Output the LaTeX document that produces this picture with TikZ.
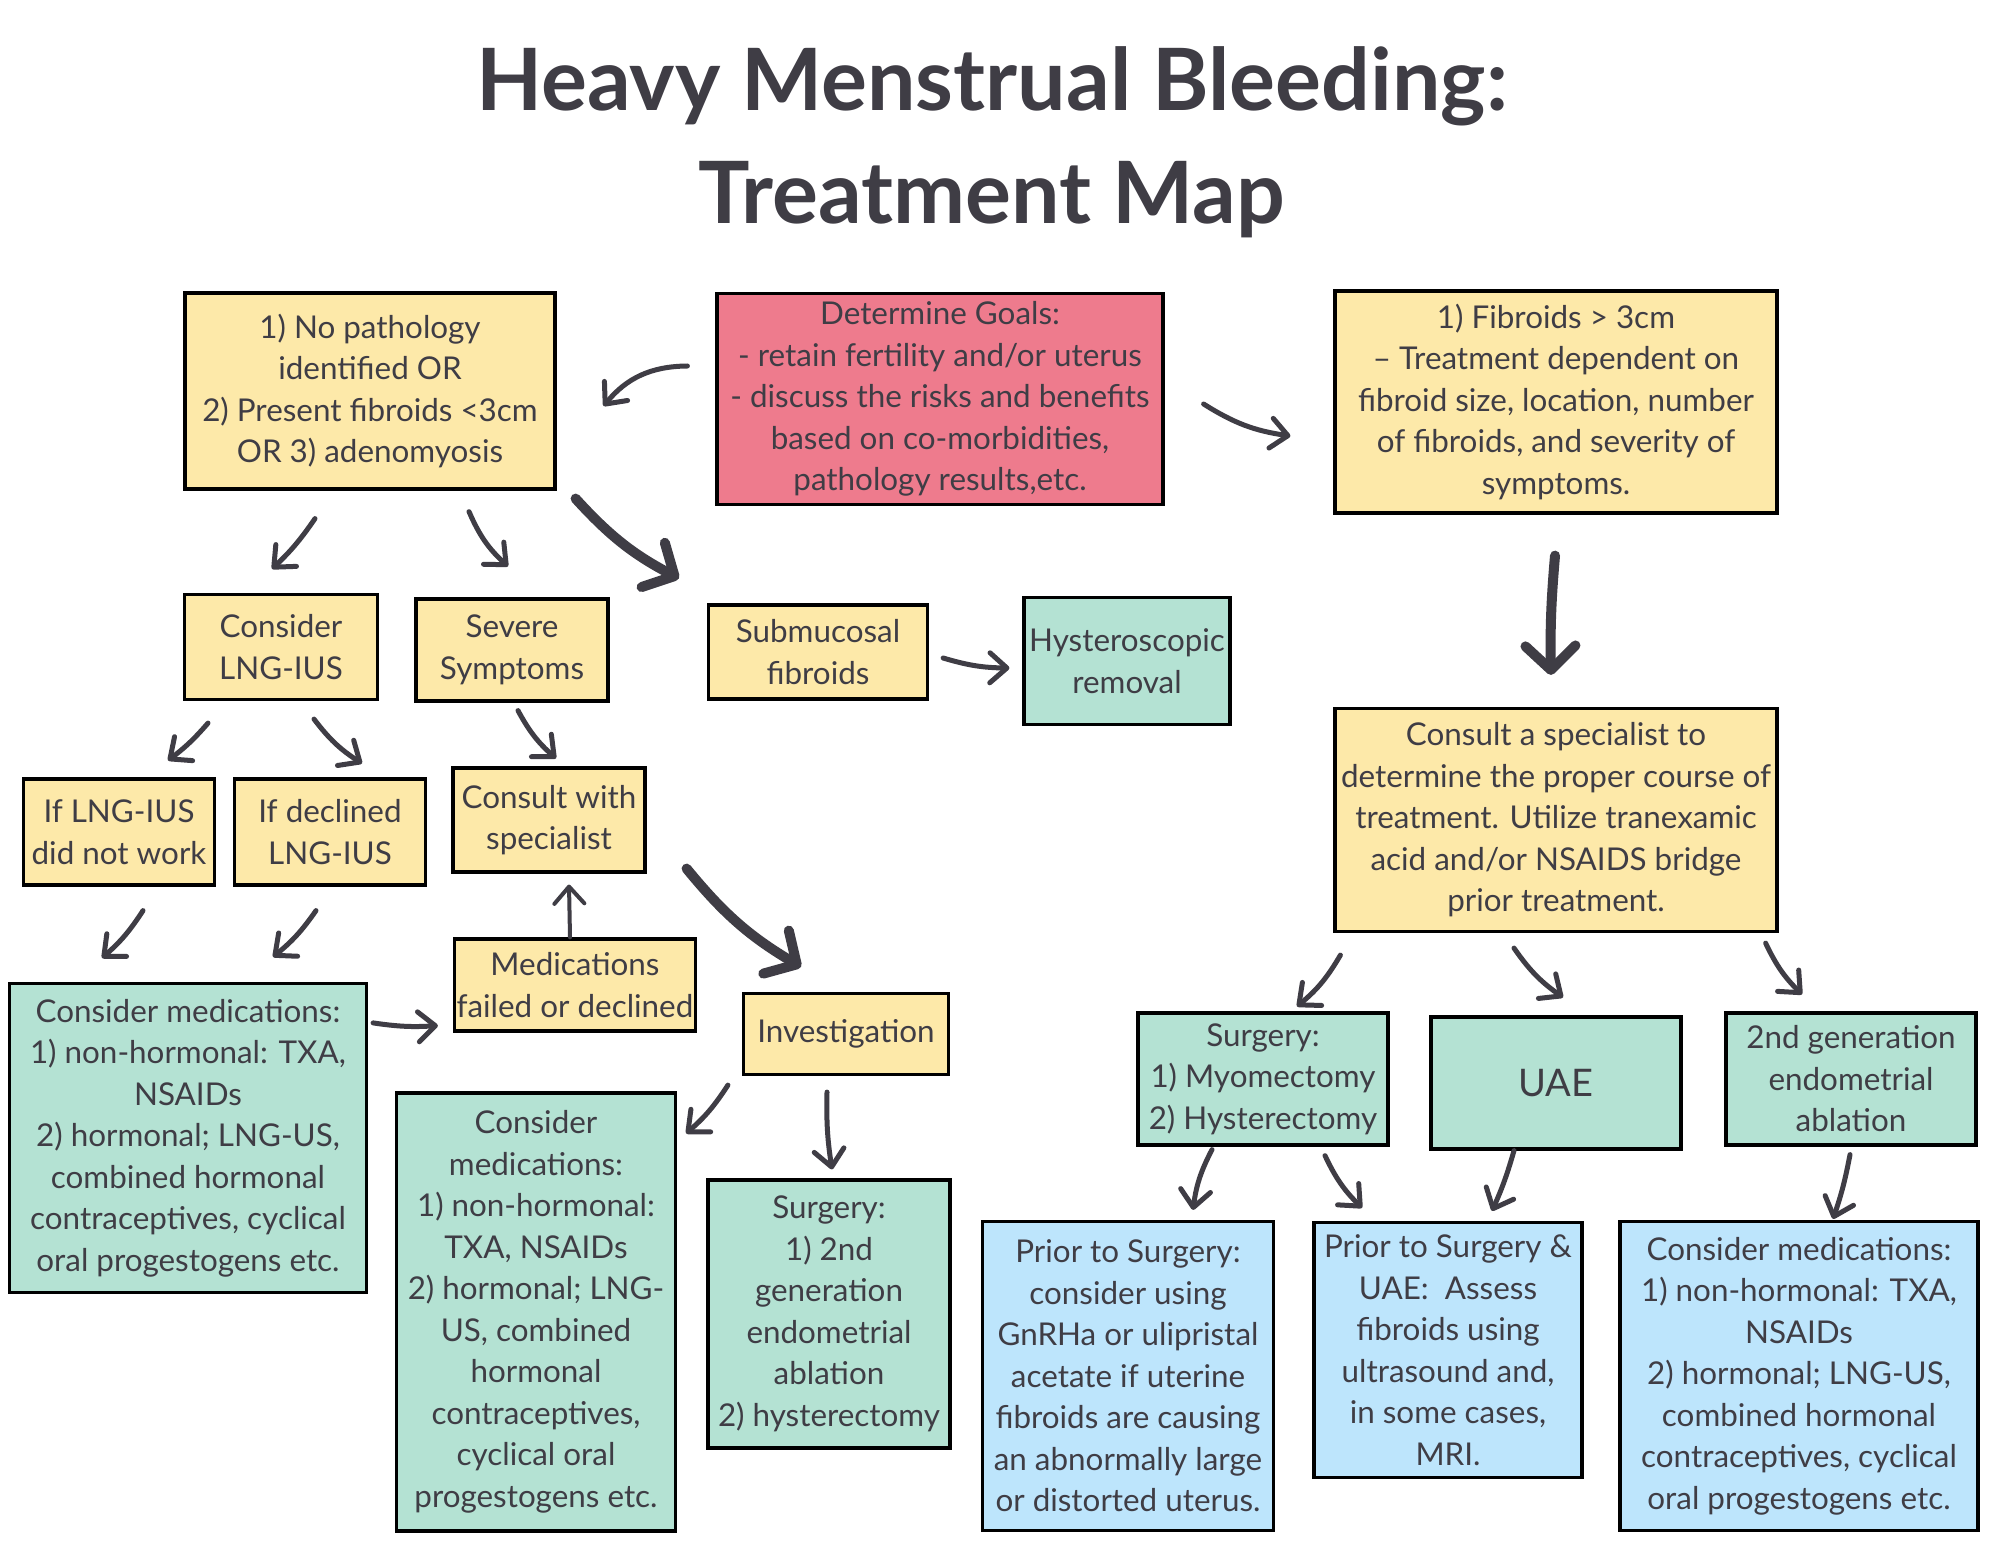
\documentclass[tikz,border=0pt]{standalone}
\usepackage{fontspec}
\setmainfont{Lato}
\usetikzlibrary{arrows.meta}
\definecolor{ink}{HTML}{3F3D45}
\definecolor{sticky}{HTML}{FDE9A9}
\definecolor{rose}{HTML}{EE7B8D}
\definecolor{mint}{HTML}{B4E2D3}
\definecolor{sky}{HTML}{BDE5FC}

\begin{document}
\begin{tikzpicture}[x=0.5pt,y=-0.5pt,
    box/.style={draw=black, line width=1.6pt, align=center, text=ink, inner sep=0pt,
      font=\fontsize{15.7}{20.75}\selectfont},
    yellowbox/.style={box, fill=sticky},
    rosebox/.style={box, fill=rose},
    mintbox/.style={box, fill=mint},
    skybox/.style={box, fill=sky},
    title/.style={text=ink, font=\fontsize{43}{50}\selectfont\bfseries},
    arr/.style={draw=ink, line width=2.5pt, line cap=round,
      -{Straight Barb[length=8.5pt,width=15pt,round]}},
    bigarr/.style={arr, line width=5pt,
      -{Straight Barb[length=12pt,width=25pt,round]}}]
			\fill[white] (0,0) rectangle (2000,1545);
			\useasboundingbox (0,0) rectangle (2000,1545);
			\node[title] (head1) at (992,86) {Heavy Menstrual Bleeding:};
			\node[title] (head2) at (992,200) {Treatment Map};

			% top row
			\node[yellowbox, minimum width=185pt, minimum height=98pt] (nopath) at (370,391)
				{1) No pathology\\identified OR\\2) Present fibroids <3cm\\OR 3) adenomyosis};
			\node[rosebox, minimum width=223pt, minimum height=105.5pt] (goals) at (940,399)
				{Determine Goals:\\- retain fertility and/or uterus\\- discuss the risks and benefits\\based on co-morbidities,\\pathology results,etc.};
			\node[yellowbox, minimum width=221pt, minimum height=111pt] (bigfib) at (1556,402)
				{1) Fibroids > 3cm\\-- Treatment dependent on\\fibroid size, location, number\\of fibroids, and severity of\\symptoms.};

			% left branch
			\node[yellowbox, minimum width=96.5pt, minimum height=52.5pt] (lngius) at (281,647) {Consider\\LNG-IUS};
			\node[yellowbox, minimum width=96pt, minimum height=51pt] (severe) at (512,650) {Severe\\Symptoms};
			\node[yellowbox, minimum width=109.5pt, minimum height=47pt] (submuc) at (818,652) {Submucosal\\fibroids};
			\node[mintbox, minimum width=103pt, minimum height=63.5pt] (hystrem) at (1127,661) {Hysteroscopic\\removal};
			\node[yellowbox, minimum width=95.5pt, minimum height=53pt] (notwork) at (119,832) {If LNG-IUS\\did not work};
			\node[yellowbox, minimum width=95.5pt, minimum height=53pt] (declined) at (330,832) {If declined\\LNG-IUS};
			\node[yellowbox, minimum width=96pt, minimum height=52pt] (consultsp) at (549,820) {Consult with\\specialist};
			\node[yellowbox, minimum width=120.5pt, minimum height=46pt] (medfail) at (575,985) {Medications\\failed or declined};
			\node[yellowbox, minimum width=102.5pt, minimum height=40.5pt] (invest) at (846,1034) {Investigation};
			\node[mintbox, minimum width=178.5pt, minimum height=154.5pt] (medsleft) at (188,1138)
				{Consider medications:\\1) non-hormonal: TXA,\\NSAIDs\\2) hormonal; LNG-US,\\combined hormonal\\contraceptives, cyclical\\oral progestogens etc.};
			\node[mintbox, minimum width=139.5pt, minimum height=219pt] (medsmid) at (536,1312)
				{Consider\\medications:\\1) non-hormonal:\\TXA, NSAIDs\\2) hormonal; LNG-\\US, combined\\hormonal\\contraceptives,\\cyclical oral\\progestogens etc.};
			\node[mintbox, minimum width=121pt, minimum height=134pt] (surgmid) at (829,1314)
				{Surgery:\\1) 2nd\\generation\\endometrial\\ablation\\2) hysterectomy};

			% right branch
			\node[yellowbox, minimum width=221pt, minimum height=111.5pt] (specbig) at (1556,820)
				{Consult a specialist to\\determine the proper course of\\treatment. Utilize tranexamic\\acid and/or NSAIDS bridge\\prior treatment.};
			\node[mintbox, minimum width=125pt, minimum height=66pt] (surgmyo) at (1263,1079)
				{Surgery:\\1) Myomectomy\\2) Hysterectomy};
			\node[mintbox, minimum width=125pt, minimum height=66pt, font=\fontsize{19}{24}\selectfont] (uae) at (1556,1083) {UAE};
			\node[mintbox, minimum width=125pt, minimum height=66pt] (ablat) at (1851,1079)
				{2nd generation\\endometrial\\ablation};
			\node[skybox, minimum width=145.5pt, minimum height=154.5pt] (priorsurg) at (1128,1376)
				{Prior to Surgery:\\consider using\\GnRHa or ulipristal\\acetate if uterine\\fibroids are causing\\an abnormally large\\or distorted uterus.};
			\node[skybox, minimum width=134pt, minimum height=127.5pt] (prioruae) at (1448,1350)
				{Prior to Surgery \&\\UAE:\ \ Assess\\fibroids using\\ultrasound and,\\in some cases,\\MRI.};
			\node[skybox, minimum width=179pt, minimum height=154.5pt] (medsright) at (1799,1376)
				{Consider medications:\\1) non-hormonal: TXA,\\NSAIDs\\2) hormonal; LNG-US,\\combined hormonal\\contraceptives, cyclical\\oral progestogens etc.};

			% connectors
			\draw[arr] ([shift={(-28,-33)}]goals.west) to[bend right=25] ([shift={(47,15)}]nopath.east);
			\draw[arr] ([shift={(39,5)}]goals.east) to[bend right=12] ([shift={(-43,34)}]bigfib.west);
			\draw[arr] ([shift={(-55,28)}]nopath.south) to[bend left=6] ([shift={(-9,-24)}]lngius.north);
			\draw[arr] ([shift={(99,21)}]nopath.south) to[bend right=12] ([shift={(-4,-31)}]severe.north);
			\draw[bigarr] ([shift={(19,8)}]nopath.south east) to[bend right=10] ([shift={(-28,-25)}]submuc.north west);
			\draw[arr] ([shift={(14,6)}]submuc.east) to[bend right=8] ([shift={(-13,7)}]hystrem.west);
			\draw[bigarr] ([shift={(-1,41)}]bigfib.south) to[bend right=3] ([shift={(-5,-32)}]specbig.north);
			\draw[arr] ([shift={(-73,22)}]lngius.south) to[bend left=6] ([shift={(49,-17)}]notwork.north);
			\draw[arr] ([shift={(33,18)}]lngius.south) to[bend right=10] ([shift={(32,-14)}]declined.north);
			\draw[arr] ([shift={(6,8)}]severe.south) to[bend right=10] ([shift={(7,-8)}]consultsp.north);
			\draw[arr] ([shift={(24,24)}]notwork.south) to[bend left=8] ([shift={(-86,-24)}]medsleft.north);
			\draw[arr] ([shift={(-14,24)}]declined.south) to[bend left=8] ([shift={(85,-25)}]medsleft.north);
			\draw[arr] ([shift={(5,41)}]medsleft.north east) to[bend right=6] ([shift={(-15,-7)}]medfail.south west);
			\draw[arr, line width=2pt] ([shift={(-5,0)}]medfail.north) -- ([shift={(20,11)}]consultsp.south);
			\draw[bigarr] ([shift={(40,-5)}]consultsp.south east) to[bend right=10] ([shift={(-45,-25)}]invest.north);
			\draw[arr] ([shift={(-14,9)}]invest.south west) to[bend left=8] ([shift={(9,42)}]medsmid.north east);
			\draw[arr] ([shift={(-19,16)}]invest.south) to[bend right=5] ([shift={(3,-9)}]surgmid.north);
			\draw[arr] ([shift={(7,22)}]specbig.south west) to[bend left=10] ([shift={(34,-5)}]surgmyo.north);
			\draw[arr] ([shift={(-42,15)}]specbig.south) to[bend right=10] ([shift={(7,-18)}]uae.north);
			\draw[arr] ([shift={(-13,10)}]specbig.south east) to[bend right=10] ([shift={(-49,-17)}]ablat.north);
			\draw[arr] ([shift={(-51,3)}]surgmyo.south) to[bend right=10] ([shift={(65,-10)}]priorsurg.north);
			\draw[arr] ([shift={(62,9)}]surgmyo.south) to[bend right=10] ([shift={(-86,-13)}]prioruae.north);
			\draw[arr] ([shift={(-42,0)}]uae.south) to[bend left=4] ([shift={(44,-10)}]prioruae.north);
			\draw[arr] ([shift={(-1,8)}]ablat.south) to[bend left=4] ([shift={(34,-1)}]medsright.north);
		\end{tikzpicture}
\end{document}
